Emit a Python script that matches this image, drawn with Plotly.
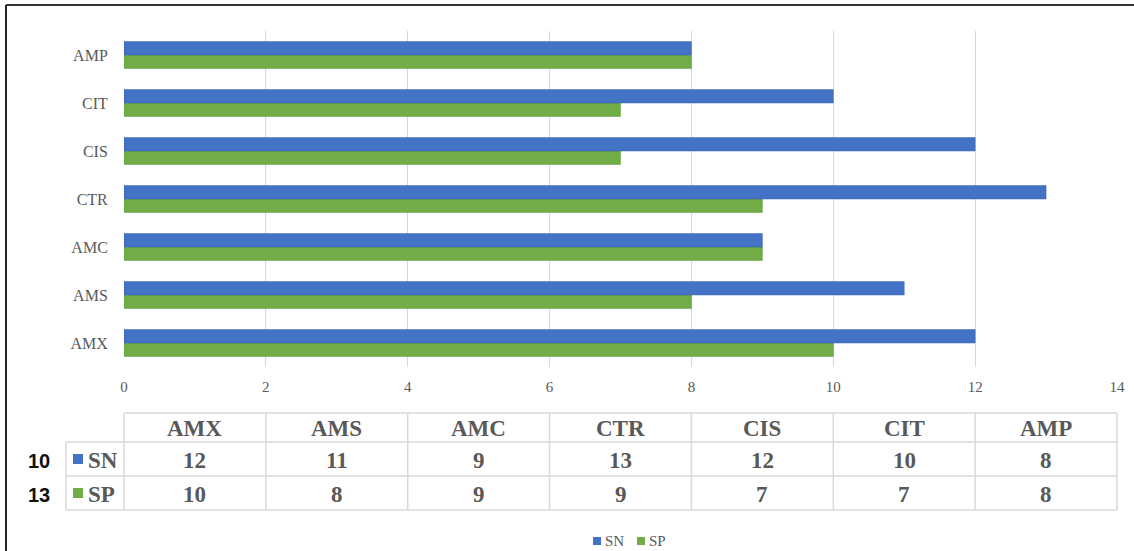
import plotly.graph_objects as go

# ---------------- data ----------------
categories = ["AMX", "AMS", "AMC", "CTR", "CIS", "CIT", "AMP"]
sn_values = [12, 11, 9, 13, 12, 10, 8]
sp_values = [10, 8, 9, 9, 7, 7, 8]
series_names = ["SN", "SP"]
side_labels = ["10", "13"]
x_ticks = [0, 2, 4, 6, 8, 10, 12, 14]

# ---------------- style ----------------
W, H = 1134, 551
L, R, T, B = 124, 17, 31, 184
BLUE = "#4472C4"
GREEN = "#70AD47"
GREY = "#595959"
LINE = "#D9D9D9"
SERIF = "Liberation Serif, Times New Roman, serif"

PW = W - L - R
PH = H - T - B


def px(x):
    return (x - L) / PW


def py(y):
    return (H - B - y) / PH


fig = go.Figure()
# SP first so that SN sits above it in each group
fig.add_trace(go.Bar(
    y=categories, x=sp_values, name=series_names[1], orientation="h",
    marker=dict(color=GREEN, line=dict(color="#5E9A3A", width=0.5)),
))
fig.add_trace(go.Bar(
    y=categories, x=sn_values, name=series_names[0], orientation="h",
    marker=dict(color=BLUE, line=dict(color="#3A62AE", width=0.5)),
))

shapes = []
annotations = []


def text(x, y, s, size, color=GREY, family=SERIF, xanchor="center"):
    annotations.append(dict(x=x, y=y, xref="paper", yref="paper", text=s,
                            showarrow=False, xanchor=xanchor, yanchor="middle",
                            font=dict(family=family, size=size, color=color)))


# ---- data table ----
y_top, y_h, y_r1, y_bot = 413, 442, 476, 510
x_lab = 66
xmax = x_ticks[-1]
ncol = len(categories)
col_edges = [i * xmax / ncol for i in range(ncol + 1)]


def hline(y, x0, x1):
    shapes.append(dict(type="line", xref="paper", yref="paper",
                       x0=x0, x1=x1, y0=py(y), y1=py(y),
                       line=dict(color=LINE, width=1.5)))


def vline(x, y0, y1):
    shapes.append(dict(type="line", xref="paper", yref="paper",
                       x0=x, x1=x, y0=py(y0), y1=py(y1),
                       line=dict(color=LINE, width=1.5)))


hline(y_top, 0, 1)
hline(y_h, px(x_lab), 1)
hline(y_r1, px(x_lab), 1)
hline(y_bot, px(x_lab), 1)
vline(px(x_lab), y_h, y_bot)
for e in col_edges:
    vline(e / xmax, y_top, y_bot)

row_centers = [(y_h + y_r1) / 2 + 1, (y_r1 + y_bot) / 2 + 1]
header_center = (y_top + y_h) / 2 + 1

for i, c in enumerate(categories):
    xc = (col_edges[i] + col_edges[i + 1]) / 2 / xmax
    text(xc, py(header_center), "<b>%s</b>" % c, 23)
    for r, vals in enumerate([sn_values, sp_values]):
        text(xc, py(row_centers[r]), "<b>%d</b>" % vals[i], 23)

colors = [BLUE, GREEN]
for r, (nm, col) in enumerate(zip(series_names, colors)):
    yc = row_centers[r] - 1
    shapes.append(dict(type="rect", xref="paper", yref="paper",
                       x0=px(73), x1=px(83), y0=py(yc - 5), y1=py(yc + 5),
                       fillcolor=col, line=dict(width=0)))
    text(px(86), py(yc + 1), "<b>%s</b>" % nm, 23, xanchor="left")
    text(px(39), py(yc + 2), "<b>%s</b>" % side_labels[r], 20,
         color="#111111", family="Liberation Sans, Arial, sans-serif")

# ---- bottom legend (manual) ----
leg_y = 541
leg_x = [593, 637]
for nm, col, lx in zip(series_names, colors, leg_x):
    shapes.append(dict(type="rect", xref="paper", yref="paper",
                       x0=px(lx), x1=px(lx + 8), y0=py(leg_y - 4), y1=py(leg_y + 4),
                       fillcolor=col, line=dict(width=0)))
    text(px(lx + 10), py(leg_y), nm, 15, xanchor="left")

# ---- outer border (left & top) ----
shapes.append(dict(type="line", xref="paper", yref="paper",
                   x0=px(6), x1=px(6), y0=py(5), y1=py(H + 5),
                   line=dict(color="#222222", width=2)))
shapes.append(dict(type="line", xref="paper", yref="paper",
                   x0=px(6), x1=px(W + 5), y0=py(5), y1=py(5),
                   line=dict(color="#333333", width=2)))

fig.update_layout(
    width=W, height=H,
    margin=dict(l=L, r=R, t=T, b=B, pad=0, autoexpand=False),
    paper_bgcolor="white", plot_bgcolor="white",
    barmode="group", bargap=0.44, bargroupgap=0,
    font=dict(family=SERIF, color=GREY),
    xaxis=dict(range=[0, xmax], tickvals=x_ticks, showgrid=True, gridcolor=LINE,
               gridwidth=1, zeroline=False, showline=False, automargin=False,
               ticks="outside", ticklen=6, tickcolor="rgba(0,0,0,0)",
               tickfont=dict(family=SERIF, size=15, color=GREY)),
    yaxis=dict(showgrid=False, zeroline=False, showline=False, automargin=False,
               ticks="outside", ticklen=12, tickcolor="rgba(0,0,0,0)",
               tickfont=dict(family=SERIF, size=16, color=GREY)),
    shapes=shapes,
    annotations=annotations,
    showlegend=False,
)

fig.write_html("out.html")
